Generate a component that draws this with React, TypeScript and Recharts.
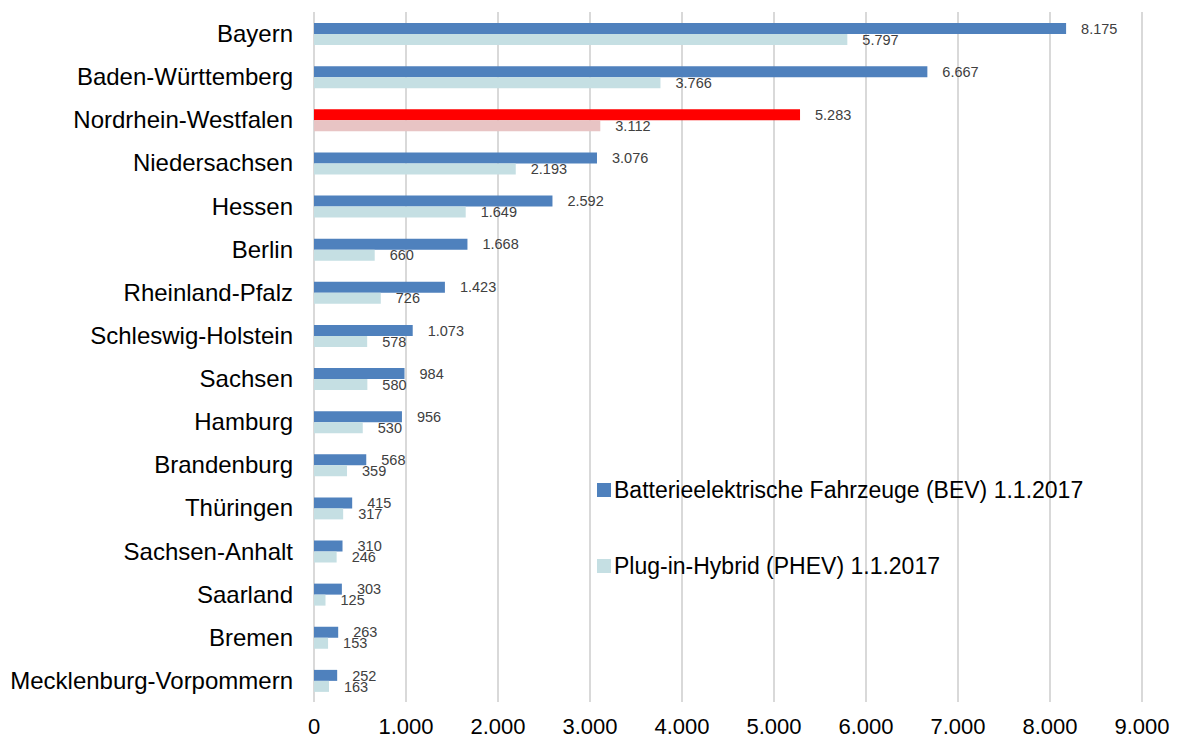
import React from 'react';
import { BarChart, Bar, XAxis, YAxis, CartesianGrid, LabelList, Cell } from 'recharts';

const states = [
  'Bayern', 'Baden-Württemberg', 'Nordrhein-Westfalen', 'Niedersachsen', 'Hessen', 'Berlin',
  'Rheinland-Pfalz', 'Schleswig-Holstein', 'Sachsen', 'Hamburg', 'Brandenburg', 'Thüringen',
  'Sachsen-Anhalt', 'Saarland', 'Bremen', 'Mecklenburg-Vorpommern',
];
const bev = [8175, 6667, 5283, 3076, 2592, 1668, 1423, 1073, 984, 956, 568, 415, 310, 303, 263, 252];
const phev = [5797, 3766, 3112, 2193, 1649, 660, 726, 578, 580, 530, 359, 317, 246, 125, 153, 163];
const xTicks = [0, 1000, 2000, 3000, 4000, 5000, 6000, 7000, 8000, 9000];
const highlight = 'Nordrhein-Westfalen';

const BEV_NAME = 'Batterieelektrische Fahrzeuge (BEV) 1.1.2017';
const PHEV_NAME = 'Plug-in-Hybrid (PHEV) 1.1.2017';
const BEV_COLOR = '#4f81bd';
const PHEV_COLOR = '#c5dfe3';
const FONT = 'Liberation Sans, Arial, sans-serif';

const data = states.map((name, i) => ({ name, bev: bev[i], phev: phev[i] }));

const fmt = (v: number) => String(v).replace(/\B(?=(\d{3})+(?!\d))/g, '.');

const legendItems = [
  { label: BEV_NAME, color: BEV_COLOR },
  { label: PHEV_NAME, color: PHEV_COLOR },
];

const LegendBox = () => (
  <div style={{ position: 'absolute', left: 597, top: 475, fontFamily: FONT, fontSize: 23, color: '#000' }}>
    {legendItems.map((it, i) => (
      <div key={it.label} style={{ display: 'flex', alignItems: 'center', height: 30, marginTop: i ? 46 : 0 }}>
        <span style={{ width: 14, height: 14, background: it.color, marginRight: 3, display: 'inline-block' }} />
        <span>{it.label}</span>
      </div>
    ))}
  </div>
);

export default function App() {
  return (
    <div style={{ position: 'absolute', left: 0, top: 0, width: 1178, height: 740, background: '#fff' }}>
      <BarChart
        width={1178}
        height={740}
        data={data}
        layout="vertical"
        margin={{ top: 12, right: 36, bottom: 0, left: 0 }}
        barSize={11}
        barGap={0}
      >
        <CartesianGrid horizontal={false} vertical stroke="#d9d9d9" strokeWidth={2} />
        <XAxis
          type="number"
          domain={[0, 9000]}
          ticks={xTicks}
          tickFormatter={fmt}
          axisLine={false}
          tickLine={false}
          tickSize={0}
          tickMargin={16}
          height={38}
          tick={{ fill: '#000', fontSize: 22, fontFamily: FONT }}
        />
        <YAxis
          type="category"
          dataKey="name"
          width={314}
          axisLine={false}
          tickLine={false}
          tickSize={0}
          tickMargin={21}
          interval={0}
          tick={{ fill: '#000', fontSize: 24, fontFamily: FONT }}
        />
        <Bar dataKey="bev" name={BEV_NAME} fill={BEV_COLOR} isAnimationActive={false}>
          {data.map((d) => (
            <Cell key={d.name} fill={d.name === highlight ? '#ff0000' : BEV_COLOR} />
          ))}
          <LabelList
            dataKey="bev"
            position="right"
            offset={15}
            formatter={(v: any) => fmt(v)}
            style={{ fill: '#404040', fontSize: 14.5, fontFamily: FONT }}
          />
        </Bar>
        <Bar dataKey="phev" name={PHEV_NAME} fill={PHEV_COLOR} isAnimationActive={false}>
          {data.map((d) => (
            <Cell key={d.name} fill={d.name === highlight ? '#e8c4c4' : PHEV_COLOR} />
          ))}
          <LabelList
            dataKey="phev"
            position="right"
            offset={15}
            formatter={(v: any) => fmt(v)}
            style={{ fill: '#404040', fontSize: 14.5, fontFamily: FONT }}
          />
        </Bar>
      </BarChart>
      <LegendBox />
    </div>
  );
}
